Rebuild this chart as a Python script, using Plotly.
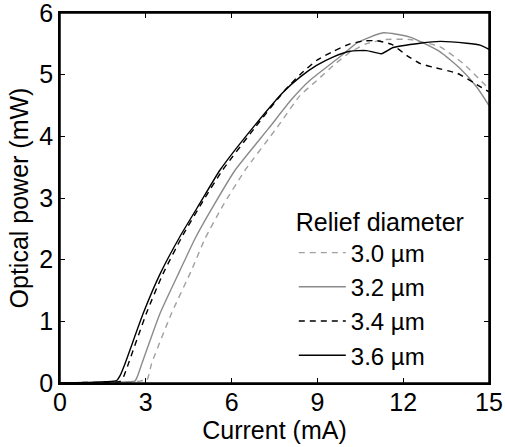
import plotly.graph_objects as go

# ---- data ----
x_30 = [0, 2.0, 2.8, 2.95, 3.03, 3.1, 3.2, 3.9, 4.6, 5.07, 5.7, 6.47, 7.6, 8.39, 8.97, 9.56, 10.13, 10.7, 11.4, 12.24, 13.29, 14.1, 15]
y_30 = [0, 0.0, 0.03, 0.05, 0.04, 0.12, 0.31, 1.13, 1.83, 2.34, 2.88, 3.45, 4.15, 4.66, 4.9, 5.15, 5.36, 5.5, 5.57, 5.57, 5.45, 5.18, 4.77]

x_32 = [0, 1.5, 2.4, 2.62, 2.7, 2.86, 3.5, 4.2, 4.72, 5.4, 6.12, 7.28, 8.1, 8.74, 9.79, 10.4, 11.3, 12.24, 13.29, 13.99, 14.57, 15]
y_32 = [0, 0.0, 0.02, 0.03, 0.1, 0.31, 1.13, 1.83, 2.34, 2.9, 3.45, 4.12, 4.6, 4.91, 5.29, 5.52, 5.68, 5.61, 5.37, 5.10, 4.80, 4.50]

x_34 = [0, 1.0, 1.8, 2.12, 2.22, 2.39, 3.02, 3.60, 4.3, 5.0, 5.68, 6.83, 7.85, 8.39, 9.0, 9.56, 10.14, 10.7, 11.1, 11.6, 12.13, 12.6, 13.05, 13.9, 14.5, 15]
y_34 = [0, 0.01, 0.01, 0.03, 0.1, 0.31, 1.13, 1.77, 2.40, 2.95, 3.45, 4.15, 4.74, 5.0, 5.24, 5.38, 5.5, 5.55, 5.55, 5.49, 5.31, 5.18, 5.12, 5.02, 4.86, 4.72]

x_36 = [0, 1.0, 1.6, 1.98, 2.1, 2.27, 2.91, 3.50, 4.2, 4.9, 5.59, 6.76, 7.81, 8.39, 8.97, 9.56, 10.14, 10.72, 11.24, 11.65, 12.59, 13.29, 14.22, 14.69, 15]
y_36 = [0, 0.01, 0.02, 0.04, 0.12, 0.31, 1.13, 1.77, 2.38, 2.92, 3.45, 4.15, 4.72, 4.96, 5.15, 5.29, 5.38, 5.39, 5.34, 5.44, 5.51, 5.54, 5.51, 5.48, 5.41]

series_names = ["3.0 µm", "3.2 µm", "3.4 µm", "3.6 µm"]
x_ticks = [0, 3, 6, 9, 12, 15]
y_ticks = [0, 1, 2, 3, 4, 5, 6]

styles = [
    dict(color="#a0a0a0", dash="6px,5px"),
    dict(color="#8a8a8a", dash="solid"),
    dict(color="#000000", dash="6px,5px"),
    dict(color="#000000", dash="solid"),
]

FONT = "Liberation Sans, Arial, sans-serif"

fig = go.Figure()
for xs, ys, name, st in zip([x_30, x_32, x_34, x_36], [y_30, y_32, y_34, y_36], series_names, styles):
    fig.add_trace(go.Scatter(
        x=xs, y=ys, mode="lines", name=name,
        line=dict(color=st["color"], dash=st["dash"], width=1.4, shape="spline", smoothing=0.5),
    ))

axis_common = dict(
    showline=True, linecolor="black", linewidth=1.5, mirror="all",
    ticks="inside", ticklen=5, tickwidth=1, tickcolor="black",
    showgrid=False, zeroline=False, automargin=False,
    ticklabeloverflow="allow",
    tickfont=dict(family=FONT, size=25, color="black"),
)

fig.update_layout(
    width=505, height=447,
    margin=dict(l=60, r=16, t=13, b=64, autoexpand=False),
    paper_bgcolor="white", plot_bgcolor="white",
    font=dict(family=FONT, size=25, color="black"),
    showlegend=True,
    legend=dict(
        x=0.545, y=0.50, xanchor="left", yanchor="top",
        bgcolor="rgba(0,0,0,0)", borderwidth=0,
        title=dict(text="Relief diameter", font=dict(family=FONT, size=25)),
        font=dict(family=FONT, size=24, color="black"),
        itemwidth=47,
        tracegroupgap=0,
    ),
    xaxis=dict(range=[0, 15], tickvals=x_ticks, ticktext=[str(v) for v in x_ticks],
               ticklabelstandoff=-4,
               title=dict(text="Current (mA)", standoff=2, font=dict(family=FONT, size=25)),
               **axis_common),
    yaxis=dict(range=[0, 6], tickvals=y_ticks, ticktext=[str(v) for v in y_ticks],
               title=dict(text="Optical power (mW)", standoff=4, font=dict(family=FONT, size=25)),
               **axis_common),
    shapes=[dict(type="rect", xref="paper", yref="paper", x0=0, x1=1, y0=0, y1=1,
                 line=dict(color="black", width=1.5), fillcolor="rgba(0,0,0,0)", layer="above")],
)

fig.write_html(
    "out.html",
    config={"displayModeBar": False},
    post_script="document.body.style.margin='0px';document.body.style.overflow='hidden';",
)
